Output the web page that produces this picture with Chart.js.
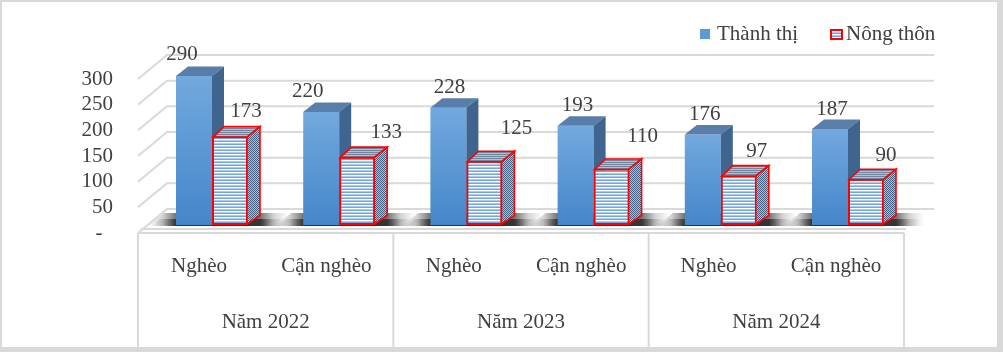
<!DOCTYPE html>
<html><head><meta charset="utf-8">
<script src="https://cdn.jsdelivr.net/npm/chart.js@4.4.1/dist/chart.umd.min.js"></script>
<style>html,body{margin:0;padding:0;background:#fff;}canvas{display:block;}</style>
</head><body>
<canvas id="c" width="1003" height="352"></canvas>
<script>
// ---------------- data ----------------
const groupLabels = ['Năm 2022', 'Năm 2023', 'Năm 2024'];
const categoryLabels = ['Nghèo', 'Cận nghèo', 'Nghèo', 'Cận nghèo', 'Nghèo', 'Cận nghèo'];
const seriesNames = ['Thành thị', 'Nông thôn'];
const thanhThi = [290, 220, 228, 193, 176, 187];
const nongThon = [173, 133, 125, 110, 97, 90];
const yTickValues = [0, 50, 100, 150, 200, 250, 300];

// ---------------- label nudges (pixels, kept apart from data) ----------------
const labelDX = [[-12, -13.5, 1, 2, 2, 2], [16, 29, 32, 31, 18, 20]];
const labelDY = [[22.5, 22, 21.5, 22, 21.6, 21], [26, 26, 34, 33.5, 25, 24.5]];

const FONT = "'Liberation Serif','Times New Roman',serif";
const TXT = '#404040';
const GRID = '#d9d9d9';
const DX = 12, DY = 9.5;          // bar depth
const WDX = 29, WDY = 24;         // wall depth

const canvas = document.getElementById('c');
const ctx = canvas.getContext('2d');

function makePattern(cells) {
  const h = cells.length, w = cells[0].length;
  const c = document.createElement('canvas'); c.width = w; c.height = h;
  const x = c.getContext('2d');
  for (let j = 0; j < h; j++) for (let i = 0; i < w; i++) { x.fillStyle = cells[j][i]; x.fillRect(i, j, 1, 1); }
  return ctx.createPattern(c, 'repeat');
}
const frontStripes = makePattern([['#72a6e0'], ['#ffffff'], ['#aecbee']]);
const topStripes = makePattern([['#72869f'], ['#b3bfcd']]);
const sideChecker = makePattern([['#435e7e', '#b3c0cf'], ['#b3c0cf', '#435e7e']]);

function poly(pts, fill, stroke, lw) {
  ctx.beginPath();
  ctx.moveTo(pts[0][0], pts[0][1]);
  for (let k = 1; k < pts.length; k++) ctx.lineTo(pts[k][0], pts[k][1]);
  ctx.closePath();
  if (fill) { ctx.fillStyle = fill; ctx.fill(); }
  if (stroke) { ctx.strokeStyle = stroke; ctx.lineWidth = lw; ctx.lineJoin = 'miter'; ctx.stroke(); }
}

function shadowBand(c, L, R, yTop, yBot, slant, ext, a) {
  const x0 = L - ext, x1 = R + ext, tot = x1 - x0;
  const g = c.createLinearGradient(x0, 0, x1, 0);
  g.addColorStop(0, 'rgba(0,0,0,0)');
  g.addColorStop((ext * 0.5) / tot, 'rgba(0,0,0,' + (a * 0.3) + ')');
  g.addColorStop(ext / tot, 'rgba(0,0,0,' + a + ')');
  g.addColorStop((tot - ext) / tot, 'rgba(0,0,0,' + a + ')');
  g.addColorStop((tot - ext * 0.5) / tot, 'rgba(0,0,0,' + (a * 0.3) + ')');
  g.addColorStop(1, 'rgba(0,0,0,0)');
  c.fillStyle = g;
  c.beginPath();
  c.moveTo(x0, yBot); c.lineTo(x0 + slant, yTop); c.lineTo(x1, yTop); c.lineTo(x1, yBot); c.closePath();
  c.fill();
}

const scene = {
  id: 'scene',
  beforeDraw(chart) {
    const c = chart.ctx;
    c.save();
    c.fillStyle = GRID; c.fillRect(0, 0, chart.width, chart.height);
    c.fillStyle = '#ffffff'; c.fillRect(2, 2, 995, 345);
    c.restore();
  },
  beforeDatasetsDraw(chart) {
    const c = chart.ctx, a = chart.chartArea, yl = chart.scales.yl, xg = chart.scales.xg;
    c.save();
    c.strokeStyle = GRID; c.lineWidth = 2;
    yTickValues.forEach(v => {
      const p = yl.getPixelForValue(v);
      c.beginPath(); c.moveTo(a.left, p); c.lineTo(a.left + WDX, p - WDY); c.lineTo(a.right - 1, p - WDY); c.stroke();
    });
    const p0 = yl.getPixelForValue(0);
    c.beginPath(); c.moveTo(a.left + 3, p0 - 4); c.lineTo(xg.getPixelForValue(5.5) + 2, p0 - 4); c.stroke();
    const xs = [-0.5, 1.5, 3.5, 5.5].map(v => xg.getPixelForValue(v));
    c.beginPath(); c.moveTo(xs[0], p0); c.lineTo(xs[3], p0); c.stroke();
    xs.forEach(x => { c.beginPath(); c.moveTo(x, p0); c.lineTo(x, 347); c.stroke(); });
    // floor shadows
    const m0 = chart.getDatasetMeta(0), m1 = chart.getDatasetMeta(1);
    c.beginPath(); c.rect(a.left, p0 - 22, a.right - a.left, 16); c.clip();
    m0.data.forEach((b0, i) => {
      const b1 = m1.data[i];
      const L = b0.x - b0.width / 2, R = b1.x + b1.width / 2 + DX, B = b0.base;
      shadowBand(c, L, R, B - 12, B + 1, 16, 28, 0.55);
      shadowBand(c, L, R, B - 6, B + 1, 8, 24, 0.55);
    });
    c.restore();
  },
  afterDatasetsDraw(chart) {
    const m0 = chart.getDatasetMeta(0), m1 = chart.getDatasetMeta(1);
    ctx.save();
    m0.data.forEach((b0, i) => {
      const b1 = m1.data[i];
      let L = b0.x - b0.width / 2, R = b0.x + b0.width / 2, T = b0.y, B = b0.base;
      poly([[L, T], [L + DX, T - DY], [R + DX, T - DY], [R, T]], '#587ea9');
      poly([[R, T], [R + DX, T - DY], [R + DX, B - DY], [R, B]], '#3f658e');
      b1.draw(ctx);
      L = b1.x - b1.width / 2; R = b1.x + b1.width / 2; T = b1.y; B = b1.base;
      poly([[L + 1, T + 1], [L + DX, T - DY], [R + DX, T - DY], [R - 1, T + 1]], topStripes, '#ff0000', 1.6);
      poly([[R - 1, T + 1], [R + DX, T - DY], [R + DX, B - DY], [R - 1, B - 1]], sideChecker, '#ff0000', 1.6);
    });
    ctx.restore();
  },
  afterDraw(chart) {
    const c = chart.ctx;
    c.save();
    c.font = '21px ' + FONT; c.fillStyle = TXT; c.textAlign = 'center'; c.textBaseline = 'alphabetic';
    [0, 1].forEach(d => {
      chart.getDatasetMeta(d).data.forEach((el, i) => {
        const v = chart.data.datasets[d].data[i].y;
        c.fillText(String(v), el.x + labelDX[d][i], el.y - labelDY[d][i] + 7);
      });
    });
    c.textAlign = 'left';
    c.fillStyle = '#5b9bd5'; c.fillRect(700, 29, 10, 10);
    c.fillStyle = TXT; c.fillText(seriesNames[0], 717, 40);
    c.fillStyle = frontStripes; c.fillRect(831, 30, 11, 9);
    c.strokeStyle = '#ff0000'; c.lineWidth = 2; c.strokeRect(831, 30, 11, 9);
    c.fillStyle = TXT; c.fillText(seriesNames[1], 846, 40);
    c.restore();
  }
};

const tickFont = { family: FONT, size: 21, lineHeight: 1 };

new Chart(ctx, {
  type: 'bar',
  data: {
    datasets: [
      {
        label: seriesNames[0],
        data: thanhThi.map((v, i) => ({ x: i, y: v })),
        backgroundColor: (c) => {
          const ch = c.chart;
          if (!ch.chartArea || c.type !== 'data') return '#5b9bd5';
          const ys = ch.scales.y;
          const top = ys.getPixelForValue(c.parsed.y), base = ys.getPixelForValue(0);
          const g = ch.ctx.createLinearGradient(0, top, 0, base);
          g.addColorStop(0, '#72a9de'); g.addColorStop(1, '#4586ca');
          return g;
        },
        borderWidth: 0
      },
      {
        label: seriesNames[1],
        data: nongThon.map((v, i) => ({ x: i, y: v })),
        backgroundColor: frontStripes,
        borderColor: '#ff0000',
        borderWidth: 2,
        borderSkipped: false
      }
    ]
  },
  options: {
    responsive: false,
    animation: false,
    devicePixelRatio: 1,
    layout: { padding: { top: 40, right: 68, bottom: 3, left: 0 } },
    datasets: { bar: { categoryPercentage: 0.566, barPercentage: 1 } },
    plugins: { legend: { display: false }, tooltip: { enabled: false } },
    scales: {
      x: {
        type: 'linear', display: false, offset: false, min: -0.5818, max: 5.684,
        afterBuildTicks: s => { s.ticks = categoryLabels.map((_, i) => ({ value: i })); }
      },
      y: { type: 'linear', display: false, min: -15.57, max: 360.06 },
      yl: {
        type: 'linear', position: 'left', min: 0, max: 375.97,
        grid: { display: false, drawTicks: false }, border: { display: false },
        afterBuildTicks: s => { s.ticks = yTickValues.map(v => ({ value: v })); },
        afterFit: s => { s.width = 138; },
        ticks: { padding: 25, color: TXT, font: tickFont, callback: v => (v === 0 ? '-  ' : String(v)) }
      },
      xl: {
        type: 'linear', position: 'bottom', weight: 1, offset: false, min: -0.4788, max: 5.777,
        grid: { display: false, drawTicks: false }, border: { display: false },
        afterBuildTicks: s => { s.ticks = categoryLabels.map((_, i) => ({ value: i })); },
        afterFit: s => { s.height = 56; },
        ticks: { padding: 23, autoSkip: false, maxRotation: 0, color: TXT, font: tickFont, callback: (v, i) => categoryLabels[i] }
      },
      xg: {
        type: 'linear', position: 'bottom', weight: 2, offset: false, min: -0.5, max: 5.7427,
        grid: { display: false, drawTicks: false }, border: { display: false },
        afterBuildTicks: s => { s.ticks = groupLabels.map((_, i) => ({ value: 2 * i + 0.5 })); },
        afterFit: s => { s.height = 60; },
        ticks: { padding: 23, autoSkip: false, maxRotation: 0, color: TXT, font: tickFont, callback: (v, i) => groupLabels[i] }
      }
    }
  },
  plugins: [scene]
});
</script>
</body></html>
